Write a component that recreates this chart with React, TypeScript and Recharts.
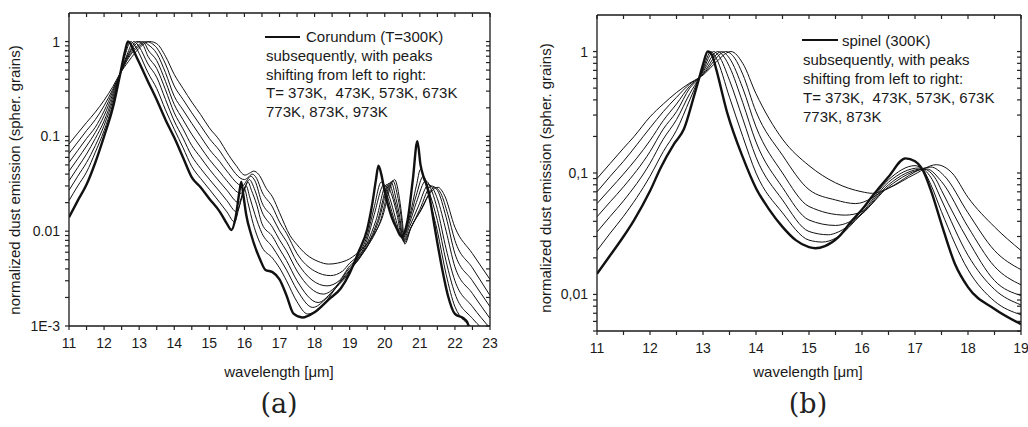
import { LineChart, Line, XAxis, YAxis } from 'recharts';

type Pt = [number, number];

const FONT = '"Liberation Sans", Arial, Helvetica, sans-serif';
const INK = '#1a1a1a';

// ---- panel (a): corundum, wavelength [um] -> normalized emission ----
const corundum300: Pt[] = [
  [11, 0.014], [11.25, 0.021], [11.5, 0.031], [11.75, 0.053], [12, 0.1], [12.25, 0.2], [12.44, 0.42],
  [12.6, 0.8], [12.68, 1], [12.75, 0.95], [12.87, 0.76], [13, 0.6], [13.25, 0.38], [13.5, 0.243],
  [13.75, 0.15], [14, 0.097], [14.25, 0.06], [14.5, 0.037], [14.75, 0.029], [15, 0.022], [15.3, 0.016],
  [15.5, 0.012], [15.63, 0.0103], [15.75, 0.014], [15.85, 0.025], [15.91, 0.033], [15.97, 0.024],
  [16.05, 0.015], [16.2, 0.009], [16.45, 0.005], [16.6, 0.0039], [16.8, 0.0037], [17, 0.0031],
  [17.2, 0.0021], [17.4, 0.00135], [17.65, 0.00123], [18, 0.0014], [18.4, 0.0019], [18.75, 0.0025],
  [19, 0.0036], [19.25, 0.006], [19.5, 0.0105], [19.65, 0.02], [19.75, 0.035], [19.82, 0.049],
  [19.9, 0.04], [20, 0.026], [20.2, 0.014], [20.35, 0.0105], [20.47, 0.0088], [20.65, 0.013],
  [20.8, 0.035], [20.93, 0.089], [21.02, 0.05], [21.12, 0.036], [21.22, 0.029], [21.35, 0.016],
  [21.5, 0.0075], [21.6, 0.0047], [21.8, 0.0021], [22, 0.00134], [22.25, 0.0012], [22.35, 0.0011],
  [22.45, 0.0008], [22.6, 0.0005],
];
const corundum373: Pt[] = [
  [11, 0.021], [11.25, 0.03], [11.5, 0.042], [11.75, 0.068], [12, 0.115], [12.25, 0.22], [12.44, 0.43],
  [12.6, 0.72], [12.76, 1], [12.9, 0.88], [13, 0.75], [13.25, 0.47], [13.5, 0.32], [13.75, 0.19],
  [14, 0.119], [14.25, 0.076], [14.5, 0.048], [14.75, 0.036], [15, 0.0277], [15.3, 0.02], [15.5, 0.016],
  [15.72, 0.0125], [15.85, 0.018], [16, 0.028], [16.1, 0.02], [16.25, 0.012], [16.5, 0.0068],
  [16.8, 0.0052], [17, 0.0041], [17.2, 0.003], [17.5, 0.0018], [17.8, 0.00134], [18.2, 0.0016],
  [18.6, 0.0025], [19, 0.0037], [19.25, 0.0055], [19.5, 0.009], [19.7, 0.018], [19.9, 0.033],
  [20.05, 0.025], [20.25, 0.014], [20.48, 0.0087], [20.7, 0.014], [20.9, 0.03], [21.02, 0.045],
  [21.15, 0.033], [21.3, 0.02], [21.5, 0.01], [21.75, 0.0035], [22, 0.0016], [22.5, 0.00095], [23, 0.0006],
];
const corundum473: Pt[] = [
  [11, 0.027], [11.25, 0.038], [11.5, 0.053], [11.75, 0.08], [12, 0.13], [12.25, 0.24], [12.44, 0.43],
  [12.65, 0.72], [12.85, 1], [13, 0.88], [13.25, 0.58], [13.5, 0.42], [13.75, 0.245], [14, 0.145],
  [14.25, 0.096], [14.5, 0.062], [14.75, 0.046], [15, 0.0353], [15.3, 0.026], [15.5, 0.021],
  [15.78, 0.016], [15.92, 0.022], [16.05, 0.03], [16.15, 0.023], [16.3, 0.015], [16.5, 0.0095],
  [16.8, 0.0068], [17, 0.0052], [17.2, 0.0039], [17.5, 0.0024], [17.95, 0.00157], [18.3, 0.0019],
  [18.7, 0.0028], [19, 0.0038], [19.25, 0.0052], [19.5, 0.0082], [19.7, 0.015], [19.98, 0.031],
  [20.15, 0.022], [20.3, 0.014], [20.49, 0.0085], [20.7, 0.013], [20.9, 0.024], [21.1, 0.038],
  [21.25, 0.027], [21.5, 0.013], [21.75, 0.0048], [22, 0.0022], [22.5, 0.0012], [23, 0.0008],
];
const corundum573: Pt[] = [
  [11, 0.034], [11.25, 0.047], [11.5, 0.065], [11.75, 0.095], [12, 0.145], [12.25, 0.26], [12.44, 0.435],
  [12.7, 0.75], [12.94, 1], [13.1, 0.93], [13.25, 0.7], [13.5, 0.52], [13.75, 0.31], [14, 0.177],
  [14.25, 0.12], [14.5, 0.08], [14.75, 0.06], [15, 0.045], [15.3, 0.033], [15.5, 0.027], [15.84, 0.02],
  [15.98, 0.026], [16.1, 0.033], [16.2, 0.027], [16.35, 0.019], [16.5, 0.012], [16.8, 0.0088],
  [17, 0.0065], [17.2, 0.0049], [17.5, 0.003], [18.1, 0.00177], [18.5, 0.0023], [19, 0.0039],
  [19.25, 0.005], [19.5, 0.0075], [19.75, 0.013], [20.05, 0.031], [20.2, 0.024], [20.35, 0.015],
  [20.5, 0.0083], [20.7, 0.012], [20.9, 0.02], [21.17, 0.034], [21.35, 0.026], [21.5, 0.017],
  [21.75, 0.0065], [22, 0.003], [22.5, 0.0016], [23, 0.00095],
];
const corundum673: Pt[] = [
  [11, 0.043], [11.25, 0.058], [11.5, 0.079], [11.75, 0.11], [12, 0.165], [12.25, 0.28], [12.44, 0.44],
  [12.72, 0.75], [13.03, 1], [13.15, 0.96], [13.25, 0.82], [13.5, 0.63], [13.75, 0.38], [14, 0.217],
  [14.25, 0.15], [14.5, 0.105], [14.75, 0.077], [15, 0.057], [15.3, 0.042], [15.5, 0.034], [15.9, 0.025],
  [16.03, 0.03], [16.14, 0.035], [16.3, 0.027], [16.5, 0.016], [16.8, 0.011], [17, 0.0081],
  [17.2, 0.0062], [17.5, 0.0038], [18.25, 0.00217], [18.6, 0.0026], [19, 0.0041], [19.25, 0.005],
  [19.5, 0.007], [19.8, 0.013], [20.12, 0.032], [20.27, 0.022], [20.4, 0.014], [20.52, 0.008],
  [20.7, 0.011], [20.95, 0.018], [21.25, 0.031], [21.4, 0.027], [21.5, 0.022], [21.75, 0.01],
  [22, 0.0042], [22.5, 0.0022], [23, 0.0012],
];
const corundum773: Pt[] = [
  [11, 0.053], [11.25, 0.071], [11.5, 0.095], [11.75, 0.125], [12, 0.185], [12.25, 0.3], [12.44, 0.44],
  [12.75, 0.75], [13, 0.93], [13.12, 1], [13.25, 0.93], [13.5, 0.75], [13.75, 0.47], [14, 0.265],
  [14.25, 0.19], [14.5, 0.137], [14.75, 0.1], [15, 0.073], [15.3, 0.054], [15.5, 0.043], [15.95, 0.03],
  [16.06, 0.034], [16.18, 0.038], [16.3, 0.034], [16.5, 0.02], [16.8, 0.014], [17, 0.0101],
  [17.2, 0.0078], [17.5, 0.0047], [18.35, 0.00265], [18.7, 0.003], [19, 0.0043], [19.25, 0.0052],
  [19.5, 0.0068], [19.8, 0.012], [20.18, 0.033], [20.32, 0.022], [20.43, 0.014], [20.53, 0.0078],
  [20.7, 0.01], [21, 0.017], [21.33, 0.03], [21.5, 0.027], [21.75, 0.014], [22, 0.0058], [22.5, 0.003],
  [23, 0.0016],
];
const corundum873: Pt[] = [
  [11, 0.066], [11.25, 0.087], [11.5, 0.115], [11.75, 0.15], [12, 0.21], [12.25, 0.315], [12.44, 0.445],
  [12.8, 0.76], [13, 0.89], [13.21, 1], [13.35, 0.96], [13.5, 0.86], [13.75, 0.58], [14, 0.34],
  [14.25, 0.245], [14.5, 0.177], [14.75, 0.13], [15, 0.095], [15.3, 0.07], [15.5, 0.054], [16, 0.035],
  [16.11, 0.037], [16.22, 0.04], [16.35, 0.036], [16.5, 0.026], [16.8, 0.018], [17, 0.0125],
  [17.2, 0.0095], [17.5, 0.0058], [18, 0.0038], [18.45, 0.0034], [18.8, 0.0038], [19, 0.0046],
  [19.25, 0.0055], [19.5, 0.0069], [19.85, 0.012], [20.23, 0.034], [20.38, 0.022], [20.47, 0.014],
  [20.55, 0.0076], [20.75, 0.011], [21.05, 0.017], [21.42, 0.029], [21.6, 0.025], [21.8, 0.015],
  [22, 0.008], [22.5, 0.0041], [23, 0.0021],
];
const corundum973: Pt[] = [
  [11, 0.083], [11.25, 0.108], [11.5, 0.14], [11.75, 0.18], [12, 0.24], [12.25, 0.335], [12.44, 0.45],
  [12.7, 0.62], [13, 0.85], [13.3, 1], [13.5, 0.95], [13.75, 0.7], [14, 0.45], [14.25, 0.32],
  [14.5, 0.23], [14.75, 0.17], [15, 0.123], [15.3, 0.09], [15.5, 0.068], [15.75, 0.05], [16.02, 0.039],
  [16.15, 0.041], [16.27, 0.043], [16.4, 0.04], [16.63, 0.028], [16.8, 0.023], [17, 0.0157],
  [17.3, 0.009], [17.5, 0.0072], [17.76, 0.0057], [18.1, 0.0048], [18.4, 0.0045], [18.9, 0.0049],
  [19.25, 0.006], [19.5, 0.0074], [19.9, 0.013], [20.28, 0.035], [20.42, 0.022], [20.5, 0.013],
  [20.57, 0.0073], [20.75, 0.011], [21, 0.016], [21.25, 0.024], [21.52, 0.029], [21.7, 0.024],
  [22, 0.011], [22.5, 0.0058], [23, 0.0031],
];

// ---- panel (b): spinel ----
const spinel300: Pt[] = [
  [11, 0.0148], [11.25, 0.021], [11.5, 0.03], [11.7, 0.041], [12, 0.071], [12.2, 0.11], [12.46, 0.175],
  [12.64, 0.23], [12.83, 0.43], [12.93, 0.61], [13, 0.78], [13.09, 1], [13.17, 0.94], [13.24, 0.74],
  [13.46, 0.31], [13.75, 0.135], [14, 0.075], [14.25, 0.05], [14.5, 0.036], [14.75, 0.028], [15, 0.0245],
  [15.12, 0.024], [15.3, 0.025], [15.56, 0.0298], [15.8, 0.04], [16, 0.05], [16.19, 0.064], [16.5, 0.093],
  [16.82, 0.132], [17, 0.125], [17.15, 0.105], [17.3, 0.072], [17.5, 0.038], [17.75, 0.018], [18, 0.0115],
  [18.5, 0.0076], [19, 0.0057],
];
const spinel373: Pt[] = [
  [11, 0.023], [11.25, 0.032], [11.5, 0.044], [12, 0.094], [12.25, 0.15], [12.5, 0.225], [12.75, 0.4],
  [12.93, 0.61], [13, 0.72], [13.15, 1], [13.25, 0.88], [13.5, 0.42], [13.75, 0.2], [14, 0.1], [14.5, 0.047],
  [15, 0.028], [15.25, 0.027], [15.5, 0.029], [16, 0.047], [16.5, 0.088], [17, 0.115], [17.15, 0.106],
  [17.3, 0.08], [17.5, 0.048], [18, 0.016], [18.5, 0.0088], [19, 0.0068],
];
const spinel473: Pt[] = [
  [11, 0.0327], [11.25, 0.044], [11.5, 0.059], [12, 0.12], [12.25, 0.19], [12.5, 0.275], [12.75, 0.45],
  [12.93, 0.61], [13, 0.7], [13.2, 1], [13.3, 0.92], [13.5, 0.58], [13.75, 0.28], [14, 0.135], [14.5, 0.06],
  [15, 0.033], [15.37, 0.031], [15.5, 0.032], [16, 0.046], [16.5, 0.084], [17.08, 0.11], [17.3, 0.092],
  [17.5, 0.06], [18, 0.021], [18.5, 0.011], [19, 0.0082],
];
const spinel573: Pt[] = [
  [11, 0.0436], [11.25, 0.058], [11.5, 0.077], [12, 0.15], [12.25, 0.23], [12.5, 0.32], [12.75, 0.5],
  [12.93, 0.61], [13, 0.68], [13.28, 1], [13.4, 0.9], [13.5, 0.75], [13.75, 0.38], [14, 0.18], [14.5, 0.076],
  [15, 0.041], [15.5, 0.037], [16, 0.046], [16.5, 0.08], [17.15, 0.108], [17.4, 0.088], [17.5, 0.072],
  [18, 0.028], [18.5, 0.013], [19, 0.0098],
];
const spinel673: Pt[] = [
  [11, 0.056], [11.25, 0.074], [11.5, 0.098], [12, 0.185], [12.25, 0.27], [12.5, 0.37], [12.75, 0.52],
  [12.93, 0.61], [13, 0.66], [13.35, 1], [13.5, 0.88], [13.75, 0.5], [14, 0.24], [14.5, 0.1], [15, 0.053],
  [15.69, 0.045], [16, 0.048], [16.5, 0.077], [17.22, 0.108], [17.5, 0.085], [18, 0.036], [18.5, 0.017],
  [19, 0.012],
];
const spinel773: Pt[] = [
  [11, 0.07], [11.25, 0.094], [11.5, 0.125], [12, 0.235], [12.25, 0.32], [12.5, 0.42], [12.75, 0.54],
  [12.93, 0.61], [13, 0.65], [13.43, 1], [13.6, 0.88], [13.75, 0.65], [14, 0.32], [14.5, 0.14], [15, 0.073],
  [15.5, 0.06], [15.88, 0.056], [16.5, 0.075], [17.3, 0.112], [17.55, 0.095], [18, 0.047], [18.5, 0.023],
  [19, 0.016],
];
const spinel873: Pt[] = [
  [11, 0.09], [11.25, 0.12], [11.5, 0.16], [11.7, 0.2], [12, 0.29], [12.25, 0.37], [12.5, 0.46],
  [12.75, 0.55], [12.93, 0.61], [13, 0.64], [13.2, 0.78], [13.53, 1], [13.75, 0.8], [14, 0.45], [14.5, 0.19],
  [15, 0.115], [15.5, 0.083], [16, 0.07], [16.2, 0.068], [16.5, 0.075], [17, 0.098], [17.4, 0.117],
  [17.7, 0.1], [18, 0.063], [18.5, 0.036], [19, 0.023],
];

const corundumSeries = [corundum300, corundum373, corundum473, corundum573, corundum673, corundum773, corundum873, corundum973];
const spinelSeries = [spinel300, spinel373, spinel473, spinel573, spinel673, spinel773, spinel873];

// axis ticks and labels
const corundumXTicks = [11, 12, 13, 14, 15, 16, 17, 18, 19, 20, 21, 22, 23];
const spinelXTicks = [11, 12, 13, 14, 15, 16, 17, 18, 19];
const corundumDecades = [0.001, 0.01, 0.1, 1];
const corundumDecadeLabels = ['1E-3', '0.01', '0.1', '1'];
const spinelDecades = [0.001, 0.01, 0.1, 1];
const spinelDecadeLabels = ['1E-3', '0,01', '0,1', '1'];

const corundumLegend = ['Corundum (T=300K)', 'subsequently, with peaks', 'shifting from left to right:', 'T= 373K,  473K, 573K, 673K', '773K, 873K, 973K'];
const spinelLegend = ['spinel (300K)', 'subsequently, with peaks', 'shifting from left to right:', 'T= 373K,  473K, 573K, 673K', '773K, 873K'];

const yTitle = 'normalized dust emission (spher. grains)';
const xTitle = 'wavelength [\u03bcm]';

// half-step minors for x, 1..9 minors for the log axis
const withHalves = (major: number[]) => {
  const out: number[] = [];
  major.forEach((m, i) => {
    out.push(m);
    if (i < major.length - 1) out.push(m + 0.5);
  });
  return out;
};
const logTicks = (decades: number[], lo: number, hi: number) => {
  const out: number[] = [];
  decades.forEach((d) => {
    for (let m = 1; m <= 9; m++) {
      const v = +(d * m).toPrecision(6);
      if (v >= lo && v < hi) out.push(v);
    }
  });
  return out;
};

const toRows = (pts: Pt[]) => pts.map(([x, v]) => ({ x, v }));
const noLabel = () => <g />;
const frame = { stroke: INK, strokeWidth: 1.3 };
const tickStroke = { stroke: '#222', strokeWidth: 1.2 };

interface PanelProps {
  series: Pt[][];
  xDomain: [number, number];
  yDomain: [number, number];
  xMajor: number[];
  decades: number[];
  decadeLabels: string[];
  width: number;
  height: number;
  margin: { top: number; right: number; left: number; bottom: number };
  yAxisWidth: number;
  xAxisHeight: number;
}

const Panel = ({ series, xDomain, yDomain, xMajor, decades, decadeLabels, width, height, margin, yAxisWidth, xAxisHeight }: PanelProps) => {
  const left = margin.left + yAxisWidth;
  const bottom = height - margin.bottom - xAxisHeight;
  const xTicks = withHalves(xMajor);
  const yTicks = logTicks(decades, yDomain[0], yDomain[1]);

  const renderXTick = ({ x, payload }: any) => {
    const v = payload.value;
    if (!Number.isInteger(v)) return <g />;
    return (
      <text x={x} y={bottom + 17} textAnchor="middle" dominantBaseline="central" fontSize={14} fill={INK} fontFamily={FONT}>
        {v}
      </text>
    );
  };

  const renderYTick = ({ y, payload }: any) => {
    const v = payload.value;
    const idx = decades.findIndex((d) => Math.abs(d - v) / d < 1e-6);
    if (idx < 0) return <g />;
    return (
      <text x={left - 9} y={y} textAnchor="end" dominantBaseline="central" fontSize={14} fill={INK} fontFamily={FONT}>
        {decadeLabels[idx]}
      </text>
    );
  };

  return (
    <LineChart width={width} height={height} margin={margin}>
      <XAxis
        dataKey="x"
        type="number"
        domain={xDomain}
        allowDataOverflow
        ticks={xTicks}
        interval={0}
        height={xAxisHeight}
        tickSize={4}
        tickLine={tickStroke}
        tick={renderXTick}
        axisLine={frame}
      />
      <XAxis
        xAxisId="top"
        orientation="top"
        dataKey="x"
        type="number"
        domain={xDomain}
        allowDataOverflow
        ticks={xTicks}
        interval={0}
        height={1}
        mirror
        tickSize={4}
        tickLine={tickStroke}
        tick={noLabel}
        axisLine={frame}
      />
      <YAxis
        type="number"
        scale="log"
        domain={yDomain}
        allowDataOverflow
        ticks={yTicks}
        interval={0}
        width={yAxisWidth}
        tickSize={4}
        tickLine={tickStroke}
        tick={renderYTick}
        axisLine={frame}
      />
      <YAxis
        yAxisId="right"
        orientation="right"
        type="number"
        scale="log"
        domain={yDomain}
        allowDataOverflow
        ticks={yTicks}
        interval={0}
        width={1}
        mirror
        tickSize={4}
        tickLine={tickStroke}
        tick={noLabel}
        axisLine={frame}
      />
      {series.map((pts, i) => {
        // the mirrored axes share the same domain, so half of the curves are bound to them
        const mirrored = i % 2 === 1;
        return (
          <Line
            key={i}
            xAxisId={mirrored ? 'top' : 0}
            yAxisId={mirrored ? 'right' : 0}
            data={toRows(pts)}
            dataKey="v"
            type="monotone"
            dot={false}
            stroke="#111"
            strokeWidth={i === 0 ? 2.4 : 1}
            isAnimationActive={false}
          />
        );
      })}
    </LineChart>
  );
};

const Legend = ({ lines, x, firstX, y, lineX1, lineX2, step }: any) => (
  <>
    <div style={{ position: 'absolute', left: lineX1, top: y - 1.2, width: lineX2 - lineX1, borderTop: `2.4px solid #111` }} />
    {lines.map((t: string, i: number) => (
      <div
        key={i}
        style={{
          position: 'absolute',
          left: i === 0 ? firstX : x,
          top: y + i * step - 10,
          height: 20,
          lineHeight: '20px',
          fontSize: 15,
          whiteSpace: 'pre',
          color: INK,
        }}
      >
        {t}
      </div>
    ))}
  </>
);

const Title = ({ text, cx, cy, rotate }: { text: string; cx: number; cy: number; rotate?: boolean }) => (
  <div
    style={{
      position: 'absolute',
      left: cx - 200,
      top: cy - 10,
      width: 400,
      height: 20,
      lineHeight: '20px',
      textAlign: 'center',
      fontSize: 15,
      color: INK,
      transform: rotate ? 'rotate(-90deg)' : undefined,
    }}
  >
    {text}
  </div>
);

const Caption = ({ text, cx }: { text: string; cx: number }) => (
  <div
    style={{
      position: 'absolute',
      left: cx - 50,
      top: 387,
      width: 100,
      textAlign: 'center',
      fontSize: 27,
      lineHeight: '34px',
      fontFamily: '"DejaVu Serif", "Liberation Serif", serif',
      color: '#222',
    }}
  >
    {text}
  </div>
);

export default function App() {
  return (
    <div style={{ position: 'absolute', left: 0, top: 0, width: 1028, height: 427, background: '#fff', fontFamily: FONT, overflow: 'hidden' }}>
      <div style={{ position: 'absolute', left: 0, top: 0 }}>
        <Panel
          series={corundumSeries}
          xDomain={[11, 23]}
          yDomain={[0.001, 2]}
          xMajor={corundumXTicks}
          decades={corundumDecades}
          decadeLabels={corundumDecadeLabels}
          width={510}
          height={370}
          margin={{ top: 13, right: 20, left: 0, bottom: 0 }}
          yAxisWidth={69}
          xAxisHeight={44}
        />
      </div>
      <div style={{ position: 'absolute', left: 520, top: 0 }}>
        <Panel
          series={spinelSeries}
          xDomain={[11, 19]}
          yDomain={[0.005, 2]}
          xMajor={spinelXTicks}
          decades={spinelDecades}
          decadeLabels={spinelDecadeLabels}
          width={508}
          height={375}
          margin={{ top: 15, right: 7, left: 0, bottom: 0 }}
          yAxisWidth={77}
          xAxisHeight={44}
        />
      </div>

      <Title text={yTitle} cx={15} cy={180} rotate />
      <Title text={yTitle} cx={546} cy={178} rotate />
      <Title text={xTitle} cx={279} cy={372} />
      <Title text={xTitle} cx={808} cy={372} />

      <Legend lines={corundumLegend} x={266} firstX={306} y={37} lineX1={265} lineX2={300} step={18.75} />
      <Legend lines={spinelLegend} x={803} firstX={842} y={40.5} lineX1={802} lineX2={838} step={19} />

      <Caption text="(a)" cx={279} />
      <Caption text="(b)" cx={808} />
    </div>
  );
}
